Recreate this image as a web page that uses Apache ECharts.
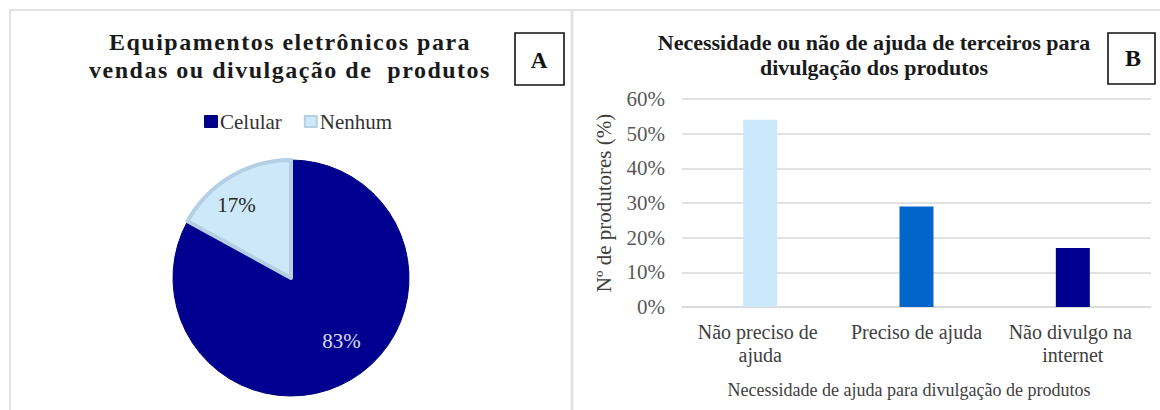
<!DOCTYPE html>
<html>
<head>
<meta charset="utf-8">
<script src="https://cdn.jsdelivr.net/npm/echarts@6/dist/echarts.min.js"></script>
<style>
  html, body { margin: 0; padding: 0; background: #ffffff; }
  #chart { width: 1160px; height: 410px; }
</style>
</head>
<body>
<div id="chart"></div>
<script>
// ---- Data ----
const pieTitleLines = ['Equipamentos eletrônicos para', 'vendas ou divulgação de  produtos'];
const pieNames = ['Celular', 'Nenhum'];
const pieValues = [83, 17];

const barTitleLines = ['Necessidade ou não de ajuda de terceiros para', 'divulgação dos produtos'];
const barCategories = ['Não preciso de ajuda', 'Preciso de ajuda', 'Não divulgo na internet'];
const barValues = [54, 29, 17];
const yAxisName = 'Nº de produtores (%)';
const xAxisName = 'Necessidade de ajuda para divulgação de produtos';
const panelLabels = ['A', 'B'];

// ---- Styles ----
const SERIF = "'Liberation Serif', 'Times New Roman', serif";
const pieColors = ['#000090', '#cce8f9'];
const barColors = ['#cce9fb', '#0066cc', '#000090'];

const chart = echarts.init(document.getElementById('chart'), null, { renderer: 'svg' });

const option = {
  animation: false,
  backgroundColor: '#ffffff',
  legend: {
    data: pieNames,
    left: 199,
    top: 106,
    icon: 'rect',
    itemWidth: 12,
    itemHeight: 11,
    itemGap: 22,
    textStyle: { fontFamily: SERIF, fontSize: 21, color: '#333333', padding: [0, 0, 0, -2] }
  },
  grid: { left: 682, top: 99, width: 469, height: 208, containLabel: false },
  xAxis: {
    type: 'category',
    data: barCategories,
    axisLine: { show: true, lineStyle: { color: '#d9d9d9', width: 1.5 } },
    axisTick: { show: false },
    axisLabel: {
      interval: 0,
      fontFamily: SERIF, fontSize: 20, color: '#404040',
      lineHeight: 23, margin: 13,
      width: 150, overflow: 'break'
    },
    name: xAxisName,
    nameLocation: 'middle',
    nameGap: 74,
    nameTextStyle: { fontFamily: SERIF, fontSize: 18, color: '#404040', padding: [0, 15, 0, 0] }
  },
  yAxis: {
    type: 'value',
    min: 0, max: 60, interval: 10,
    axisLine: { show: false },
    axisTick: { show: false },
    splitLine: { lineStyle: { color: '#d9d9d9', width: 1.5 } },
    axisLabel: { formatter: '{value}%', fontFamily: SERIF, fontSize: 21, color: '#595959', margin: 17 },
    name: yAxisName,
    nameLocation: 'middle',
    nameRotate: 90,
    nameGap: 68,
    nameTextStyle: { fontFamily: SERIF, fontSize: 21, color: '#404040' }
  },
  series: [
    {
      type: 'pie',
      center: [291, 278],
      radius: 118,
      startAngle: 90,
      clockwise: true,
      data: pieNames.map((n, i) => ({
        name: n,
        value: pieValues[i],
        itemStyle: i === 1
          ? { color: pieColors[i], borderColor: '#b5d0e5', borderWidth: 4 }
          : { color: pieColors[i], borderColor: '#00007a', borderWidth: 1 },
        label: { color: i === 1 ? '#262626' : '#dcdcf0' }
      })),
      label: {
        show: true,
        position: 'inside',
        formatter: '{c}%',
        fontFamily: SERIF,
        fontSize: 21
      },
      labelLayout: function (params) {
        return params.dataIndex === 0 ? { dx: 19, dy: 10 } : { dx: -23, dy: -20 };
      },
      emphasis: { disabled: true }
    },
    {
      type: 'bar',
      data: barValues.map((v, i) => ({ value: v, itemStyle: { color: barColors[i] } })),
      barWidth: 34,
      emphasis: { disabled: true }
    }
  ],
  graphic: [
    // panel frames
    { type: 'rect', silent: true, shape: { x: 10, y: 10, width: 1170, height: 420 },
      style: { fill: 'none', stroke: '#e2e2e2', lineWidth: 2 } },
    { type: 'line', silent: true, shape: { x1: 572, y1: 10, x2: 572, y2: 410 },
      style: { stroke: '#e2e2e2', lineWidth: 3 } },
    // panel label boxes
    { type: 'rect', silent: true, shape: { x: 515, y: 33, width: 49, height: 52 },
      style: { fill: 'none', stroke: '#111111', lineWidth: 1.6 } },
    { type: 'text', silent: true, x: 539, y: 60,
      style: { text: panelLabels[0], font: 'bold 23px ' + SERIF, fill: '#111111', align: 'center', verticalAlign: 'middle' } },
    { type: 'rect', silent: true, shape: { x: 1108, y: 33, width: 47, height: 51 },
      style: { fill: 'none', stroke: '#111111', lineWidth: 1.6 } },
    { type: 'text', silent: true, x: 1133, y: 58,
      style: { text: panelLabels[1], font: 'bold 24px ' + SERIF, fill: '#111111', align: 'center', verticalAlign: 'middle' } },
    // pie titles
    { type: 'text', silent: true, x: 290, y: 42,
      style: { text: pieTitleLines[0], font: 'bold 24px ' + SERIF, fill: '#1a1a1a', align: 'center', verticalAlign: 'middle' } },
    { type: 'text', silent: true, x: 290, y: 70,
      style: { text: pieTitleLines[1], font: 'bold 24px ' + SERIF, fill: '#1a1a1a', align: 'center', verticalAlign: 'middle' } },
    // bar titles
    { type: 'text', silent: true, x: 874, y: 42,
      style: { text: barTitleLines[0], font: 'bold 22px ' + SERIF, fill: '#1a1a1a', align: 'center', verticalAlign: 'middle' } },
    { type: 'text', silent: true, x: 874, y: 67,
      style: { text: barTitleLines[1], font: 'bold 22px ' + SERIF, fill: '#1a1a1a', align: 'center', verticalAlign: 'middle' } }
  ]
};

function applySpacing() {
  const texts = document.querySelectorAll('#chart text');
  texts.forEach(t => {
    const s = t.textContent;
    if (s === pieTitleLines[0] || s === pieTitleLines[1]) {
      t.setAttribute('letter-spacing', '1.5');
    }
  });
}
chart.on('finished', applySpacing);
chart.setOption(option);
applySpacing();
setTimeout(applySpacing, 50);
</script>
</body>
</html>
